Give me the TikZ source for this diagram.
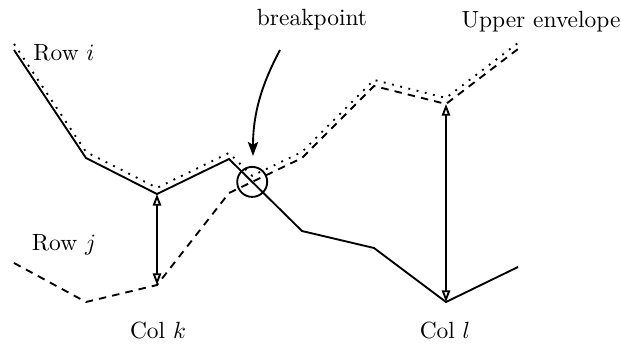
\documentclass[tikz,border=0pt]{standalone}
\usetikzlibrary{arrows.meta}
\begin{document}
\begin{tikzpicture}[x=0.015cm,y=-0.015cm,
  rowline/.style={line width=0.8pt,line join=miter},
  rowdash/.style={rowline,dash pattern=on 3.2pt off 2.6pt},
  envline/.style={line width=0.8pt,dash pattern=on 0.8pt off 2.8pt},
  gap/.style={line width=0.8pt,{Triangle[open,length=5pt,width=3.6pt]}-{Triangle[open,length=5pt,width=3.6pt]}},
  pointer/.style={line width=0.8pt,-{Stealth[length=6pt,width=4.4pt,inset=1.2pt]}},
  lbl/.style={inner sep=0pt,font=\normalsize}]
\useasboundingbox (0,0) rectangle (621,343);

% vertices of row i (solid)
\coordinate (a1) at (14,50);  \coordinate (a2) at (86,158);
\coordinate (a3) at (157,194); \coordinate (a4) at (229,159);
\coordinate (a5) at (302,231); \coordinate (a6) at (374,248);
\coordinate (a7) at (446,302); \coordinate (a8) at (518,267);
% vertices of row j (dashed)
\coordinate (b1) at (14,263);  \coordinate (b2) at (86,302);
\coordinate (b3) at (157,285); \coordinate (b4) at (229,193);
\coordinate (b5) at (302,158); \coordinate (b6) at (374,86);
\coordinate (b7) at (446,104); \coordinate (b8) at (518,49);
% crossing of the two rows
\coordinate (bp) at (252.2,181.9);

\draw[rowline] (a1) -- (a2) -- (a3) -- (a4) -- (a5) -- (a6) -- (a7) -- (a8);
\draw[rowdash] (b1) -- (b2) -- (b3) -- (b4) -- (b5) -- (b6) -- (b7) -- (b8);

% upper envelope, drawn just above the maximum of both rows
\draw[envline] ([yshift=2.6pt]a1) -- ([yshift=2.6pt]a2) -- ([yshift=2.6pt]a3)
  -- ([yshift=2.6pt]a4) -- ([yshift=2.6pt]bp) -- ([yshift=2.6pt]b5)
  -- ([yshift=2.6pt]b6) -- ([yshift=2.6pt]b7) -- ([yshift=2.6pt]b8);

\draw[line width=0.8pt] (bp) circle[radius=15];

% gaps at columns k and l
\draw[gap] (a3) -- (b3);
\draw[gap] (b7) -- (a7);

% labels
\node[lbl] (rowi) at (64,53) {Row $i$};
\node[lbl] (rowj) at (64,245) {Row $j$};
\node[lbl] (colk) at (158,330) {Col $k$};
\node[lbl] (coll) at (445,330) {Col $l$};
\node[lbl] (env) at (541,22) {Upper envelope};
\node[lbl] (bplbl) at (312,20) {breakpoint};

\coordinate (ptail) at (280,50);
\coordinate (ptip) at (253,156);
\draw[pointer] (ptail) .. controls (264,80) and (253,110) .. (ptip);
\end{tikzpicture}
\end{document}
